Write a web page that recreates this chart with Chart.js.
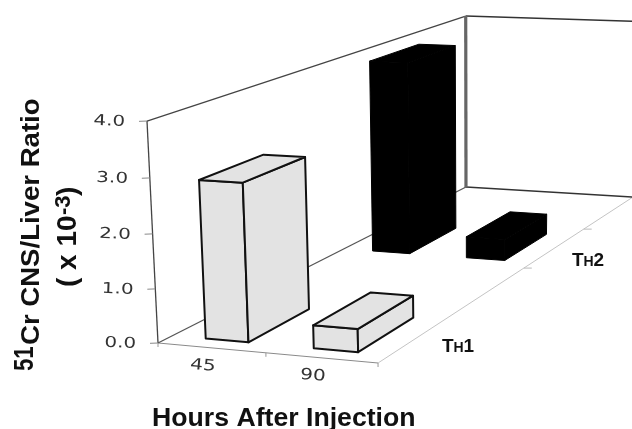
<!DOCTYPE html>
<html><head><meta charset="utf-8">
<style>html,body{margin:0;padding:0;background:#fff}canvas{display:block}</style>
<script src="https://cdn.jsdelivr.net/npm/chart.js@4"></script>
</head><body><canvas id="c" width="632" height="429"></canvas>
<script>
const hours = ['45', '90'];
const th1Values = [2.9, 0.42];
const th2Values = [3.95, 0.44];
const seriesNames = ['TH1', 'TH2'];
const depthBands = [[0.035, 0.2], [0.525, 0.7]];

// floor plane projection (tx: along hours axis, tz: into the depth)
const P = {x0:158,y0:343,p:205.8,q:482.7,s:6.33,t:-85.9,g:-0.03766,h:0.3749,c:-0.00015,r:-0.0716,u:1.018,k:0.042};
function proj(tx,tz,v){
  const w=1+P.g*tx+P.h*tz+P.c*v;
  return [(P.x0+P.p*tx+P.q*tz+P.r*v)/w,(P.y0+P.s*tx+P.t*tz-P.u*(1+P.k*tz)*v)/w];
}
function poly(ctx,pts,fill,stroke,lw){
  ctx.beginPath();pts.forEach((p,i)=>i?ctx.lineTo(p[0],p[1]):ctx.moveTo(p[0],p[1]));ctx.closePath();
  ctx.lineJoin='round';
  if(fill){ctx.fillStyle=fill;ctx.fill();}
  if(stroke){ctx.strokeStyle=stroke;ctx.lineWidth=lw;ctx.stroke();}
}
function seg(ctx,a,b,col,lw){ctx.beginPath();ctx.moveTo(a[0],a[1]);ctx.lineTo(b[0],b[1]);ctx.strokeStyle=col;ctx.lineWidth=lw;ctx.stroke();}
function txt(ctx,s,x,y,o){
  ctx.save();ctx.translate(x,y);ctx.rotate(o.rot||0);ctx.scale(o.sx||1,1);
  ctx.font=o.font;ctx.textAlign=o.align||'left';ctx.textBaseline='alphabetic';ctx.fillStyle=o.color||'#111';
  ctx.fillText(s,0,0);ctx.restore();
}
const BOLD='"Liberation Sans"';
const frame3d={
  id:'frame3d',
  beforeDatasetsDraw(chart){
    const ctx=chart.ctx,a=chart.chartArea,ys=chart.scales.y,H=a.bottom-a.top;
    ctx.save();ctx.lineCap='butt';
    const A0=proj(0,0,0),A1=proj(0,0,H),C0=proj(0,1,0),C1=proj(0,1,H),D0=proj(1,1,0),D1=proj(1,1,H),B0=proj(1,0,0);
    seg(ctx,A0,B0,'#8a8a8a',1);seg(ctx,B0,D0,'#c4c4c4',1);
    seg(ctx,A0,A1,'#444',1.3);seg(ctx,A1,C1,'#444',1.3);seg(ctx,A0,C0,'#555',1.3);
    seg(ctx,C0,D0,'#333',1.5);seg(ctx,C1,D1,'#333',1.5);seg(ctx,C0,C1,'#666',3.2);
    // value ticks and labels
    ys.ticks.forEach(t=>{
      const v=a.bottom-ys.getPixelForValue(t.value),p=proj(0,0,v);
      seg(ctx,[p[0]-8,p[1]+0.3],p,'#888',1);
      txt(ctx,t.value.toFixed(1),p[0]-22,p[1]+5,{font:'15px "DejaVu Sans"',sx:1.33,align:'right',color:'#333',rot:0.04});
    });
    // hour axis ticks and labels
    [0,0.5,1].forEach(tx=>{const p=proj(tx,0,0);seg(ctx,p,[p[0],p[1]+4],'#999',1);});
    hours.forEach((h,i)=>{
      const p=proj((i+0.5)/hours.length,0,0);
      txt(ctx,h,p[0]-9,p[1]+22,{font:'15.5px "DejaVu Sans"',sx:1.3,align:'center',color:'#333',rot:0.09});
    });
    // depth axis ticks
    [0.49,0.75].forEach(tz=>{const p=proj(1,tz,0);seg(ctx,p,[p[0]+8,p[1]],'#bbb',1);});
    // series labels
    const lab=[[442,352],[572,266]];
    seriesNames.forEach((n,i)=>{
      const [x,y]=lab[i];
      txt(ctx,'T',x,y,{font:'bold 19px '+BOLD});
      txt(ctx,'H',x+11.5,y,{font:'bold 14px '+BOLD});
      txt(ctx,n[2],x+21.5,y,{font:'bold 19px '+BOLD});
    });
    // axis titles
    txt(ctx,'Hours After Injection',152,426,{font:'bold 25.5px '+BOLD,sx:1.045});
    const R=-Math.PI/2;
    txt(ctx,'51',33,371,{font:'bold 27px '+BOLD,sx:0.82,rot:R});
    txt(ctx,'Cr CNS/Liver Ratio',39,345,{font:'bold 26.5px '+BOLD,sx:1.04,rot:R});
    txt(ctx,'( x 10',76,287,{font:'bold 28px '+BOLD,rot:R});
    txt(ctx,'-3',70,215,{font:'bold 22px '+BOLD,rot:R});
    txt(ctx,')',76,196,{font:'bold 28px '+BOLD,rot:R});
    ctx.restore();
  },
  beforeDatasetDraw(chart,args){
    const ctx=chart.ctx,a=chart.chartArea,W=a.right-a.left;
    const ds=chart.data.datasets[args.index],band=depthBands[args.index];
    args.meta.data.forEach(el=>{
      const l=(el.x-el.width/2-a.left)/W+0.007,r=(el.x+el.width/2-a.left)/W+0.007,v=el.base-el.y;
      const z0=band[0],z1=band[1];
      const f=ds.backgroundColor,s=ds.borderColor,lw=ds.borderWidth;
      poly(ctx,[proj(l,z0,0),proj(r,z0,0),proj(r,z0,v),proj(l,z0,v)],f,s,lw);
      poly(ctx,[proj(r,z0,0),proj(r,z1,0),proj(r,z1,v),proj(r,z0,v)],f,s,lw);
      poly(ctx,[proj(l,z0,v),proj(r,z0,v),proj(r,z1,v),proj(l,z1,v)],f,s,lw);
    });
    return false;
  }
};
new Chart(document.getElementById('c'),{
  type:'bar',
  data:{labels:hours,datasets:[
    {label:seriesNames[0],data:th1Values,backgroundColor:'#e3e3e3',borderColor:'#111',borderWidth:2},
    {label:seriesNames[1],data:th2Values,backgroundColor:'#000',borderColor:'#000',borderWidth:1}
  ]},
  options:{
    responsive:false,animation:false,
    layout:{padding:{left:158,right:254,top:121,bottom:86}},
    plugins:{legend:{display:false},tooltip:{enabled:false}},
    datasets:{bar:{grouped:false,barPercentage:0.4,categoryPercentage:1}},
    scales:{
      x:{display:false},
      y:{display:false,min:0,max:4,ticks:{stepSize:1}}
    }
  },
  plugins:[frame3d]
});
</script></body></html>
